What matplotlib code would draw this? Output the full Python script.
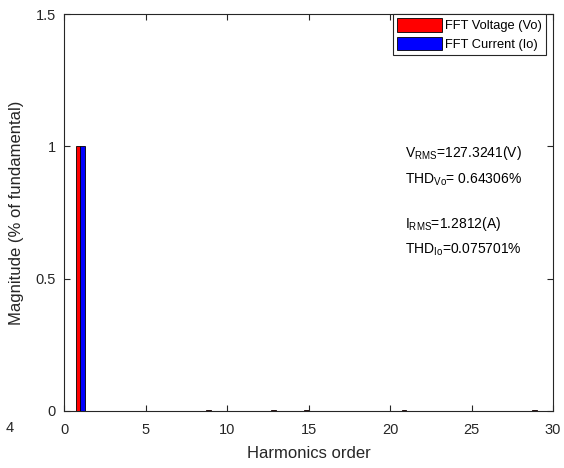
import numpy as np
import matplotlib.pyplot as plt

plt.rcParams['font.family'] = ['Liberation Sans', 'DejaVu Sans']
plt.rcParams['mathtext.fontset'] = 'custom'
plt.rcParams['mathtext.rm'] = 'Liberation Sans'
plt.rcParams['mathtext.it'] = 'Liberation Sans'

# harmonic orders and magnitudes (fraction of fundamental)
harmonics = np.arange(1, 31)
volt_mag = [1.0, 0.0005, 0.0005, 0.0005, 0.0005, 0.0005, 0.0005, 0.0005, 0.003, 0.0005,
            0.0005, 0.0005, 0.002, 0.0005, 0.004, 0.0005, 0.0005, 0.0005, 0.0005, 0.0005,
            0.003, 0.0005, 0.0005, 0.0005, 0.0005, 0.0005, 0.0005, 0.0005, 0.003, 0.0005]
curr_mag = [1.0] + [0.0003] * 29

legend_labels = ["FFT Voltage (Vo)", "FFT Current (Io)"]
info_lines = [r"V$_{\mathrm{RMS}}$=127.3241(V)",
              r"THD$_{\mathrm{Vo}}$= 0.64306%",
              r"I$_{\mathrm{RMS}}$=1.2812(A)",
              r"THD$_{\mathrm{Io}}$=0.075701%"]
info_y = [0.975, 0.875, 0.705, 0.61]

fig = plt.figure(figsize=(5.64, 4.68), dpi=100)
ax = fig.add_axes([0.1135, 0.1218, 0.867, 0.848])

w = 0.28
ax.bar(harmonics - w / 2, volt_mag, width=w, color='red', edgecolor='black', linewidth=0.6, label=legend_labels[0])
ax.bar(harmonics + w / 2, curr_mag, width=w, color='blue', edgecolor='black', linewidth=0.6, label=legend_labels[1])

ax.set_xlim(0, 30)
ax.set_ylim(0, 1.5)
ax.set_xticks([0, 5, 10, 15, 20, 25, 30])
ax.set_yticks([0, 0.5, 1, 1.5])
ax.set_yticklabels(['0', '0.5', '1', '1.5'])
ax.tick_params(direction='in', top=True, right=True, labelsize=10.5, colors='0.15', length=4)
ax.tick_params(axis='x', pad=9)
ax.tick_params(axis='y', pad=6)
for s in ax.spines.values():
    s.set_color('0.15')
    s.set_linewidth(0.8)

ax.set_xlabel("Harmonics order", fontsize=12, color='0.15', labelpad=6)
ax.set_ylabel("Magnitude (% of fundamental)", fontsize=12, color='0.15', labelpad=8)

for txt, yy in zip(info_lines, info_y):
    ax.text(20.9, yy, txt, fontsize=10, va='center', ha='left', color='black')

leg = ax.legend(loc='upper right', bbox_to_anchor=(0.986, 1.0), fontsize=9.3, handlelength=3.5,
                handleheight=1.2, borderaxespad=0, fancybox=False, framealpha=1,
                edgecolor='0.15', handletextpad=0.25, borderpad=0.32, labelspacing=0.35)
leg.get_frame().set_linewidth(0.8)

fig.text(0.018, 1 - 428 / 468, '4', fontsize=10.5, color='0.15', va='center', ha='center')

fig.savefig("out.png", dpi=100)
